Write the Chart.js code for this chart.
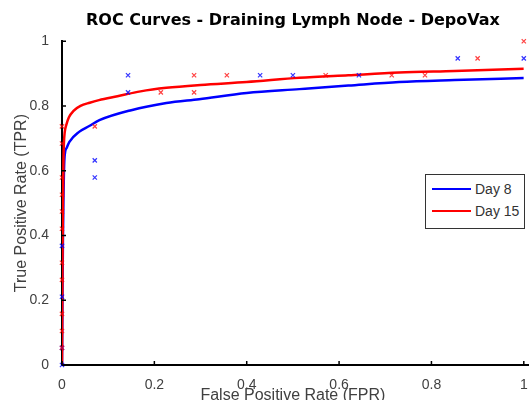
<!DOCTYPE html>
<html>
<head>
<meta charset="utf-8">
<title>ROC Curves - Draining Lymph Node - DepoVax</title>
<script src="https://cdn.jsdelivr.net/npm/chart.js@4.4.1/dist/chart.umd.min.js"></script>
<style>
  html, body { margin: 0; padding: 0; background: #fff; overflow: hidden; }
  #wrap { position: relative; width: 529px; height: 400px; }
  #legend {
    position: absolute; left: 425px; top: 174px; width: 98px; height: 50px;
    border: 1px solid #333; background: #fff; box-sizing: content-box;
    font-family: "Liberation Sans", Arial, sans-serif; font-size: 14px; color: #333;
    padding-top: 3px;
  }
  #legend .item { height: 22px; display: flex; align-items: center; }
  #legend .swatch { width: 39px; height: 2px; margin: 0 4px 0 6px; }
</style>
</head>
<body>
<div id="wrap">
  <canvas id="roc" width="529" height="400"></canvas>
  <div id="legend"></div>
</div>
<script>
// fitted ROC curves
const day8CurveFpr  = [0, 0.001, 0.002, 0.003, 0.004, 0.005, 0.007, 0.01, 0.016, 0.037, 0.059, 0.081, 0.15, 0.226, 0.297, 0.4, 0.514, 0.62, 0.73, 0.85, 1.0];
const day8CurveTpr  = [0, 0.2, 0.38, 0.5, 0.58, 0.63, 0.66, 0.67, 0.689, 0.72, 0.738, 0.756, 0.787, 0.809, 0.821, 0.84, 0.852, 0.863, 0.874, 0.88, 0.886];
const day15CurveFpr = [0, 0.001, 0.002, 0.003, 0.004, 0.006, 0.009, 0.015, 0.025, 0.04, 0.06, 0.08, 0.12, 0.17, 0.226, 0.3, 0.4, 0.514, 0.62, 0.73, 0.85, 1.0];
const day15CurveTpr = [0, 0.3, 0.5, 0.62, 0.68, 0.72, 0.74, 0.765, 0.785, 0.8, 0.81, 0.818, 0.83, 0.845, 0.856, 0.865, 0.874, 0.887, 0.895, 0.903, 0.908, 0.915];

// empirical operating points
const day8PointFpr  = [0, 0, 0, 0, 0.071, 0.071, 0.143, 0.143, 0.429, 0.5, 0.643, 0.857, 1.0];
const day8PointTpr  = [0, 0.053, 0.211, 0.368, 0.579, 0.632, 0.842, 0.895, 0.895, 0.895, 0.895, 0.947, 0.947];
const day15PointFpr = [0, 0, 0, 0, 0, 0, 0, 0, 0, 0, 0, 0.071, 0.214, 0.286, 0.286, 0.357, 0.571, 0.714, 0.786, 0.9, 1.0];
const day15PointTpr = [0.053, 0.105, 0.158, 0.263, 0.316, 0.421, 0.474, 0.526, 0.579, 0.684, 0.737, 0.737, 0.842, 0.842, 0.895, 0.895, 0.895, 0.895, 0.895, 0.947, 1.0];

const seriesNames = ['Day 8', 'Day 15'];
const axisTicks = [0, 0.2, 0.4, 0.6, 0.8, 1];

const toXY = (xs, ys) => xs.map((x, i) => ({ x: x, y: ys[i] }));
const fmtTick = v => String(Math.round(v * 10) / 10);

// small inward tick marks like the original figure
const inwardTicks = {
  id: 'inwardTicks',
  afterDraw(chart) {
    const { ctx, chartArea, scales: { x, y } } = chart;
    ctx.save();
    ctx.strokeStyle = '#000';
    ctx.lineWidth = 1.5;
    ctx.beginPath();
    axisTicks.forEach(v => {
      const px = x.getPixelForValue(v);
      ctx.moveTo(px, chartArea.bottom);
      ctx.lineTo(px, chartArea.bottom - 4);
      const py = y.getPixelForValue(v);
      ctx.moveTo(chartArea.left, py);
      ctx.lineTo(chartArea.left + 4, py);
    });
    ctx.stroke();
    // axis line runs on to the edge of the figure
    ctx.lineWidth = 2;
    ctx.beginPath();
    ctx.moveTo(chartArea.right, chartArea.bottom);
    ctx.lineTo(chart.width, chartArea.bottom);
    ctx.stroke();
    ctx.restore();
  }
};

const htmlLegend = {
  id: 'htmlLegend',
  afterUpdate(chart) {
    const box = document.getElementById('legend');
    box.innerHTML = '';
    chart.data.datasets.filter(d => d.showLine !== false).forEach(d => {
      const row = document.createElement('div');
      row.className = 'item';
      const sw = document.createElement('span');
      sw.className = 'swatch';
      sw.style.background = d.borderColor;
      const txt = document.createElement('span');
      txt.textContent = d.label;
      row.appendChild(sw);
      row.appendChild(txt);
      box.appendChild(row);
    });
  }
};

const ctx = document.getElementById('roc').getContext('2d');
new Chart(ctx, {
  type: 'scatter',
  data: {
    datasets: [
      {
        label: seriesNames[0],
        data: toXY(day8CurveFpr, day8CurveTpr),
        showLine: true,
        cubicInterpolationMode: 'monotone',
        borderColor: '#0000ff',
        borderWidth: 2.5,
        pointRadius: 0,
        order: 4
      }, {
        label: seriesNames[1],
        data: toXY(day15CurveFpr, day15CurveTpr),
        showLine: true,
        cubicInterpolationMode: 'monotone',
        borderColor: '#ff0000',
        borderWidth: 2.5,
        pointRadius: 0,
        order: 3
      }, {
        label: seriesNames[0] + ' points',
        data: toXY(day8PointFpr, day8PointTpr),
        showLine: false,
        pointStyle: 'crossRot',
        pointRadius: 3,
        borderWidth: 1.2,
        borderColor: 'rgba(0,0,255,0.8)',
        clip: false,
        order: 2
      }, {
        label: seriesNames[1] + ' points',
        data: toXY(day15PointFpr, day15PointTpr),
        showLine: false,
        pointStyle: 'crossRot',
        pointRadius: 3,
        borderWidth: 1.2,
        borderColor: 'rgba(255,0,0,0.75)',
        clip: false,
        order: 1
      }
    ]
  },
  options: {
    responsive: false,
    animation: false,
    events: [],
    layout: { padding: { left: 0, right: 5, top: 0, bottom: 0 } },
    plugins: {
      legend: { display: false },
      tooltip: { enabled: false },
      title: {
        display: true,
        fullSize: false,
        text: 'ROC Curves - Draining Lymph Node - DepoVax',
        color: '#000',
        font: { family: 'DejaVu Sans', size: 16, weight: 'bold' },
        padding: { top: 11, bottom: 11 }
      }
    },
    scales: {
      x: {
        type: 'linear',
        min: 0,
        max: 1,
        grid: { display: false },
        border: { display: true, color: '#000', width: 2 },
        ticks: {
          stepSize: 0.2,
          padding: 4,
          color: '#404040',
          maxRotation: 0,
          font: { family: 'Liberation Sans', size: 14 },
          callback: fmtTick
        },
        title: {
          display: true,
          text: 'False Positive Rate (FPR)',
          color: '#404040',
          font: { family: 'Liberation Sans', size: 16 },
          padding: { top: 0, bottom: -5 }
        },
        afterFit: s => { s.height = 35; s.paddingLeft = 0; s.paddingRight = 0; }
      },
      y: {
        type: 'linear',
        min: 0,
        max: 1,
        grid: { display: false },
        border: { display: true, color: '#000', width: 2 },
        ticks: {
          stepSize: 0.2,
          padding: 5,
          color: '#404040',
          font: { family: 'Liberation Sans', size: 14 },
          callback: fmtTick
        },
        title: {
          display: true,
          text: 'True Positive Rate (TPR)',
          color: '#404040',
          font: { family: 'Liberation Sans', size: 16 },
          padding: { top: 12, bottom: 0 }
        },
        afterFit: s => { s.width = 62; s.paddingTop = 0; s.paddingBottom = 0; }
      }
    }
  },
  plugins: [inwardTicks, htmlLegend]
});
</script>
</body>
</html>
